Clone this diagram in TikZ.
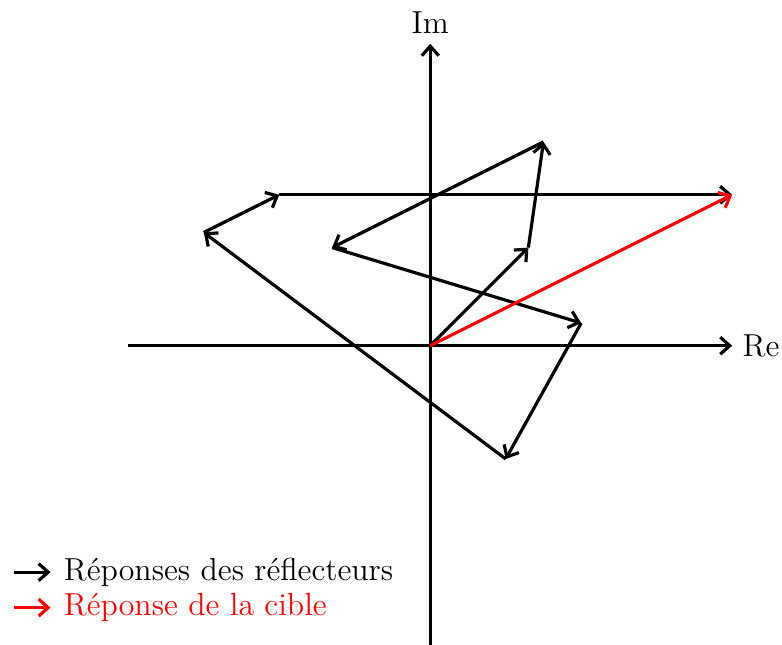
\documentclass[tikz,border=0pt]{standalone}
\usetikzlibrary{arrows.meta}
\begin{document}
\begin{tikzpicture}[font=\large,
  tip/.style={-{Straight Barb[length=3.6pt,width=6.4pt]}},
  vec/.style={tip,very thick},
  tvec/.style={tip,very thick,red},
  axis/.style={tip,very thick}]
\useasboundingbox (-5.70,-3.96) rectangle (4.66,4.58);
% axes
\coordinate (xl) at (-4,0);
\coordinate (xr) at (4,0);
\coordinate (yb) at (0,-4);
\coordinate (yt) at (0,4);
\draw[axis] (xl) -- (xr) node[right] (re) {Re};
\draw[axis] (yb) -- (yt) node[above] (im) {Im};
% chain
\coordinate (p0) at (0,0);
\coordinate (p1) at (1.3,1.3);
\coordinate (p2) at (1.5,2.7);
\coordinate (p3) at (-1.3,1.3);
\coordinate (p4) at (2,0.3);
\coordinate (p5) at (1,-1.5);
\coordinate (p6) at (-3,1.5);
\coordinate (p7) at (-2,2);
\coordinate (p8) at (4,2);
\draw[vec] (p0) -- (p1);
\draw[vec] (p1) -- (p2);
\draw[vec] (p2) -- (p3);
\draw[vec] (p3) -- (p4);
\draw[vec] (p4) -- (p5);
\draw[vec] (p5) -- (p6);
\draw[vec] (p6) -- (p7);
\draw[vec] (p7) -- (p8);
\draw[tvec] (p0) -- (p8);
% legend
\coordinate (l1a) at (-5.51,-3);
\coordinate (l1b) at (-5.03,-3);
\coordinate (l2a) at (-5.51,-3.47);
\coordinate (l2b) at (-5.03,-3.47);
\draw[vec] (l1a) -- (l1b);
\draw[tvec] (l2a) -- (l2b);
\node[anchor=west,inner sep=0pt] (t1) at (-4.86,-3) {Réponses des réflecteurs};
\node[anchor=west,inner sep=0pt,red] (t2) at (-4.86,-3.47) {Réponse de la cible};
\end{tikzpicture}
\end{document}
